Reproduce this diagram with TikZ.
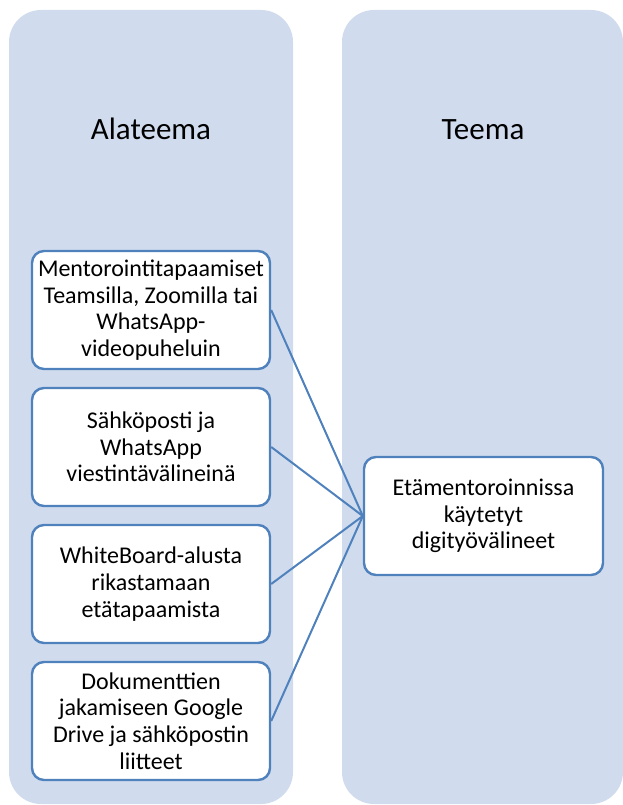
\documentclass[tikz,border=0pt]{standalone}
\usepackage{fontspec}
\setmainfont{Carlito}
\definecolor{colfill}{RGB}{208,220,238}
\definecolor{boxline}{RGB}{79,129,189}
\begin{document}
\begin{tikzpicture}[x=1pt,y=-1pt,
    item/.style={draw=boxline,line width=2.4pt,fill=white,rounded corners=12pt,
      minimum width=238pt,minimum height=118pt,align=center,
      inner sep=0pt,font=\fontsize{24}{26.7}\selectfont},
    head/.style={font=\fontsize{31}{36}\selectfont,anchor=base},
    link/.style={draw=boxline,line width=2pt}]
   \useasboundingbox (0,0) rectangle (622,805);
   \fill[colfill,rounded corners=32pt] (9,10) rectangle (293,804);
   \fill[colfill,rounded corners=32pt] (342,10) rectangle (623,804);
   \node[head] (alateema) at (151,140) {Alateema};
   \node[head] (teema) at (483,140) {Teema};
   \node[item] (sub1) at (151,310) {Mentorointitapaamiset\\Teamsilla, Zoomilla tai\\WhatsApp-\\videopuheluin};
   \node[item] (sub2) at (151,447) {Sähköposti ja\\WhatsApp\\viestintävälineinä};
   \node[item] (sub3) at (151,584) {WhiteBoard-alusta\\rikastamaan\\etätapaamista};
   \node[item] (sub4) at (151,721) {Dokumenttien\\jakamiseen Google\\Drive ja sähköpostin\\liitteet};
   \node[item,minimum width=239pt] (main) at (483.5,516) {Etämentoroinnissa\\käytetyt\\digityövälineet};
   \draw[link] (sub1.east) -- (main.west);
   \draw[link] (sub2.east) -- (main.west);
   \draw[link] (sub3.east) -- (main.west);
   \draw[link] (sub4.east) -- (main.west);
\end{tikzpicture}
\end{document}
